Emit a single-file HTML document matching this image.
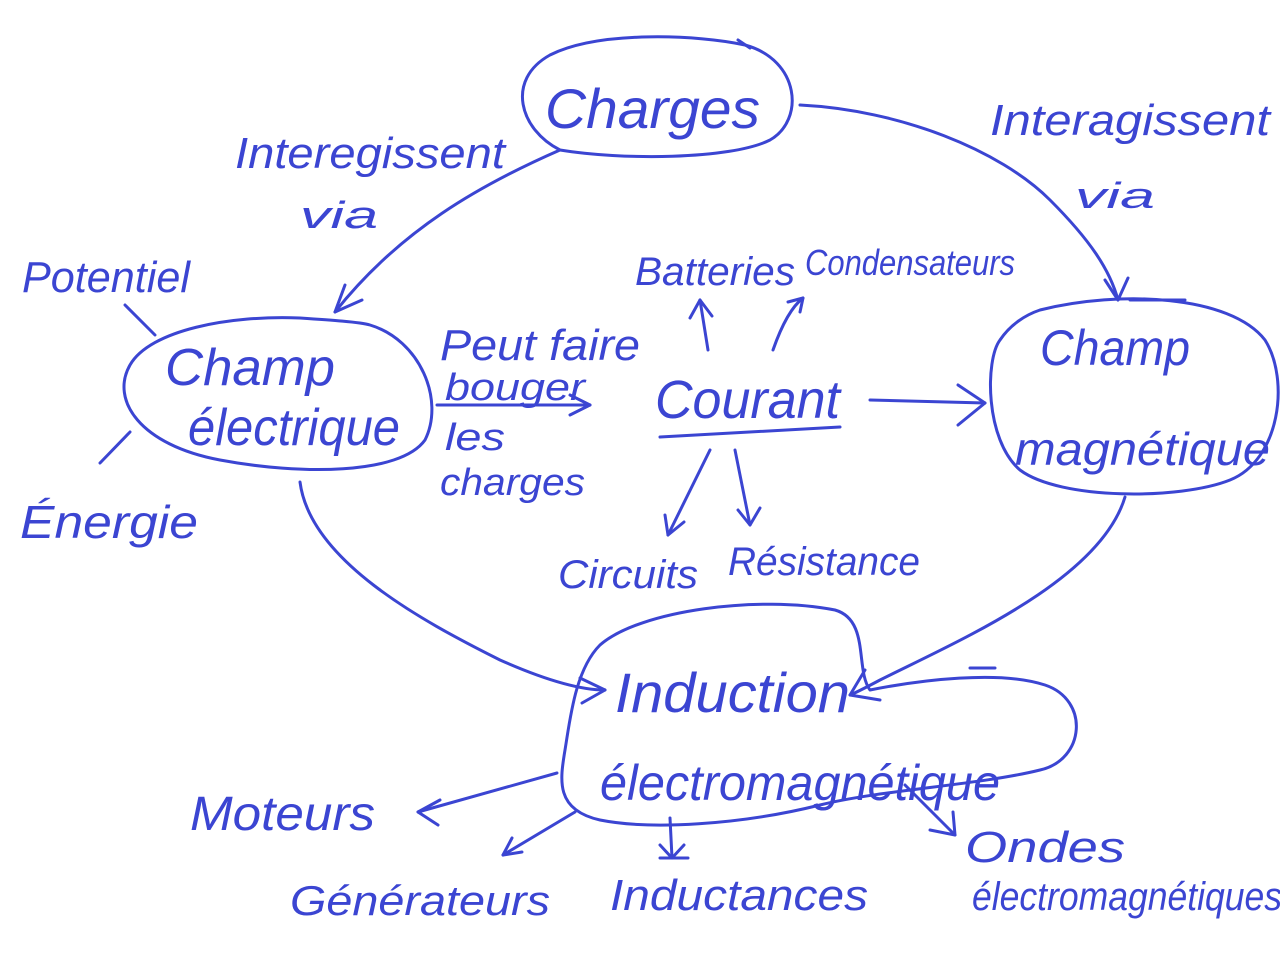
<!DOCTYPE html>
<html><head><meta charset="utf-8"><style>
html,body{margin:0;padding:0;background:#fff;}
svg{display:block}
text{font-family:"Liberation Sans",sans-serif;fill:#3b45d2;font-style:italic;}
</style></head><body>
<svg width="1280" height="960" viewBox="0 0 1280 960" xmlns="http://www.w3.org/2000/svg">
<g fill="none" stroke="#3b45d2" stroke-width="3" stroke-linecap="round" stroke-linejoin="round">
<path d="M560,150 C520,130 505,80 550,55 C600,30 700,35 745,45 C800,60 805,120 770,140 C730,160 620,160 560,150 Z"/>
<path d="M738,40 L750,48"/>
<path d="M370,325 C420,340 445,400 425,440 C400,475 300,475 220,460 C140,445 110,400 130,365 C150,330 230,315 300,318 C330,320 360,322 370,325 Z"/>
<path d="M1040,310 C1120,290 1230,295 1265,340 C1290,380 1280,460 1230,480 C1180,500 1060,500 1020,470 C985,440 985,360 1000,340 C1010,325 1025,315 1040,310 Z"/>
<path d="M1130,300 L1185,300"/>
<path d="M600,645 C640,610 760,595 835,610 C870,620 855,670 870,690 C920,680 1000,670 1045,685 C1090,700 1085,760 1040,770 C980,785 880,790 820,805 C740,825 650,830 600,820 C555,810 560,780 565,750 C570,720 575,670 600,645 Z"/>
<path d="M970,668 L995,668"/>
<path d="M560,150 C480,185 400,230 335,312"/><path d="M335,312 L345,285 M335,312 L362,300"/>
<path d="M800,105 C900,110 1000,150 1050,200 C1090,240 1110,270 1118,300"/><path d="M1118,300 L1105,280 M1118,300 L1128,278"/>
<path d="M300,482 C310,560 420,620 500,660 C545,680 580,690 605,690"/><path d="M605,690 L580,678 M605,690 L582,703"/>
<path d="M1125,497 C1100,580 960,640 880,680 C865,688 855,693 850,695"/><path d="M850,695 L865,670 M850,695 L880,700"/>
<path d="M437,405 L590,405"/><path d="M590,405 L570,395 M590,405 L570,415"/>
<path d="M870,400 L985,403"/><path d="M985,403 L958,385 M985,403 L958,425"/>
<path d="M708,350 L700,300"/><path d="M700,300 L690,318 M700,300 L712,316"/>
<path d="M773,350 C780,330 790,308 803,298"/><path d="M803,298 L788,302 M803,298 L800,312"/>
<path d="M710,450 L668,535"/><path d="M668,535 L665,515 M668,535 L684,522"/>
<path d="M735,450 L750,525"/><path d="M750,525 L738,510 M750,525 L760,508"/>
<path d="M660,437 L840,427"/>
<path d="M557,773 L418,812"/><path d="M418,812 L440,800 M418,812 L438,825"/>
<path d="M575,812 L503,855"/><path d="M503,855 L512,838 M503,855 L522,852"/>
<path d="M670,818 L672,858"/><path d="M660,858 L688,858 M660,845 L672,858 L684,845"/>
<path d="M905,785 L955,835"/><path d="M955,835 L930,830 M955,835 L953,812"/>
<path d="M125,305 L155,335"/>
<path d="M130,432 L100,463"/>
</g>
<g lengthAdjust="spacingAndGlyphs">
<text x="545" y="128" font-size="56" textLength="215" lengthAdjust="spacingAndGlyphs">Charges</text>
<text x="235" y="168" font-size="44" textLength="270" lengthAdjust="spacingAndGlyphs">Interegissent</text>
<text x="300" y="228" font-size="38" textLength="78" lengthAdjust="spacingAndGlyphs">via</text>
<text x="990" y="135" font-size="44" textLength="280" lengthAdjust="spacingAndGlyphs">Interagissent</text>
<text x="1075" y="208" font-size="36" textLength="80" lengthAdjust="spacingAndGlyphs">via</text>
<text x="22" y="292" font-size="44" textLength="168" lengthAdjust="spacingAndGlyphs">Potentiel</text>
<text x="165" y="385" font-size="52" textLength="170" lengthAdjust="spacingAndGlyphs">Champ</text>
<text x="188" y="445" font-size="52" textLength="212" lengthAdjust="spacingAndGlyphs">électrique</text>
<text x="20" y="538" font-size="46" textLength="178" lengthAdjust="spacingAndGlyphs">Énergie</text>
<text x="440" y="360" font-size="44" textLength="200" lengthAdjust="spacingAndGlyphs">Peut faire</text>
<text x="445" y="400" font-size="38" textLength="140" lengthAdjust="spacingAndGlyphs">bouger</text>
<text x="445" y="450" font-size="38" textLength="60" lengthAdjust="spacingAndGlyphs">les</text>
<text x="440" y="495" font-size="38" textLength="145" lengthAdjust="spacingAndGlyphs">charges</text>
<text x="635" y="285" font-size="40" textLength="160" lengthAdjust="spacingAndGlyphs">Batteries</text>
<text x="805" y="275" font-size="36" textLength="210" lengthAdjust="spacingAndGlyphs">Condensateurs</text>
<text x="655" y="418" font-size="54" textLength="185" lengthAdjust="spacingAndGlyphs">Courant</text>
<text x="558" y="588" font-size="40" textLength="140" lengthAdjust="spacingAndGlyphs">Circuits</text>
<text x="728" y="575" font-size="40" textLength="192" lengthAdjust="spacingAndGlyphs">Résistance</text>
<text x="1040" y="365" font-size="50" textLength="150" lengthAdjust="spacingAndGlyphs">Champ</text>
<text x="1015" y="465" font-size="46" textLength="255" lengthAdjust="spacingAndGlyphs">magnétique</text>
<text x="615" y="712" font-size="56" textLength="235" lengthAdjust="spacingAndGlyphs">Induction</text>
<text x="600" y="800" font-size="50" textLength="400" lengthAdjust="spacingAndGlyphs">électromagnétique</text>
<text x="190" y="830" font-size="48" textLength="185" lengthAdjust="spacingAndGlyphs">Moteurs</text>
<text x="290" y="915" font-size="42" textLength="260" lengthAdjust="spacingAndGlyphs">Générateurs</text>
<text x="610" y="910" font-size="44" textLength="258" lengthAdjust="spacingAndGlyphs">Inductances</text>
<text x="965" y="862" font-size="44" textLength="160" lengthAdjust="spacingAndGlyphs">Ondes</text>
<text x="972" y="910" font-size="40" textLength="310" lengthAdjust="spacingAndGlyphs">électromagnétiques</text>
</g>
</svg>
</body></html>
